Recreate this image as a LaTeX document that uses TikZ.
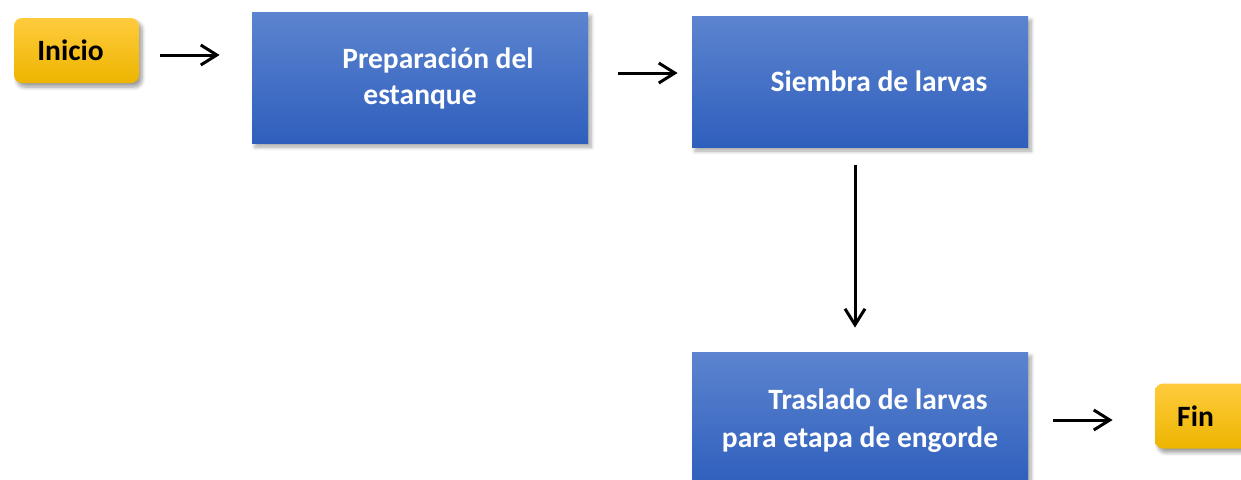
\documentclass[tikz,border=0pt]{standalone}
\usepackage{fontspec}
\setmainfont{Carlito}
\usepackage{xcolor}
\usepackage{tikz}
\usetikzlibrary{arrows.meta, shadows.blur}
\definecolor{step_top}{HTML}{5C84CF}
\definecolor{step_bottom}{HTML}{2F5FBD}
\definecolor{term_top}{HTML}{FFCB3D}
\definecolor{term_bottom}{HTML}{EDB500}

\begin{document}
\begin{tikzpicture}[
	x=0.5pt, y=-0.5pt,
	stepbox/.style = {rectangle, align=center, inner sep=0pt, text=white, top color=step_top, bottom color=step_bottom, minimum width=168pt, blur shadow={shadow xshift=1.5pt, shadow yshift=-2pt, shadow opacity=35, shadow blur steps=6}},
	termbox/.style = {rectangle, rounded corners=4pt, align=center, inner sep=0pt, text=black, top color=term_top, bottom color=term_bottom, minimum height=32.5pt, blur shadow={shadow xshift=1.5pt, shadow yshift=-2pt, shadow opacity=40, shadow blur steps=6}},
	flow/.style = {-{Straight Barb[length=8pt, width=10pt]}, line width=1.5pt, black},
]
\tikzstyle{every node}=[font=\fontsize{14.75}{18}\selectfont\bfseries]
\useasboundingbox (0,0) rectangle (1241,479);

% Define vertices
\node[termbox, minimum width=62.5pt] (Inicio) at (76.5,50.5) {\hspace*{-6pt}Inicio};
\node[stepbox, minimum height=65.5pt, text depth=1pt] (Prep) at (420,77.5) {\hspace*{18pt}Preparación del\\estanque};
\node[stepbox, minimum height=65.5pt] (Siembra) at (860,81.5) {\hspace*{19pt}Siembra de larvas};
\node[stepbox, minimum height=66.5pt, font=\fontsize{14.75}{19}\selectfont\bfseries, text depth=0pt] (Traslado) at (860,418.5) {\hspace*{18pt}Traslado de larvas\\para etapa de engorde};
\node[termbox, minimum width=47.5pt] (Fin) at (1202.5,416) {\hspace*{-7pt}Fin};

% Draw edges
\draw[flow] ([shift={(21,4.5)}]Inicio.east) -- ([shift={(-32,-22.5)}]Prep.west);
\draw[flow] ([shift={(30,-4.5)}]Prep.east) -- ([shift={(-14,-8.5)}]Siembra.west);
\draw[flow] ([shift={(-5,18)}]Siembra.south) -- ([shift={(-5,-24)}]Traslado.north);
\draw[flow] ([shift={(25,1.5)}]Traslado.east) -- ([shift={(-42,4)}]Fin.west);
\end{tikzpicture}
\end{document}
